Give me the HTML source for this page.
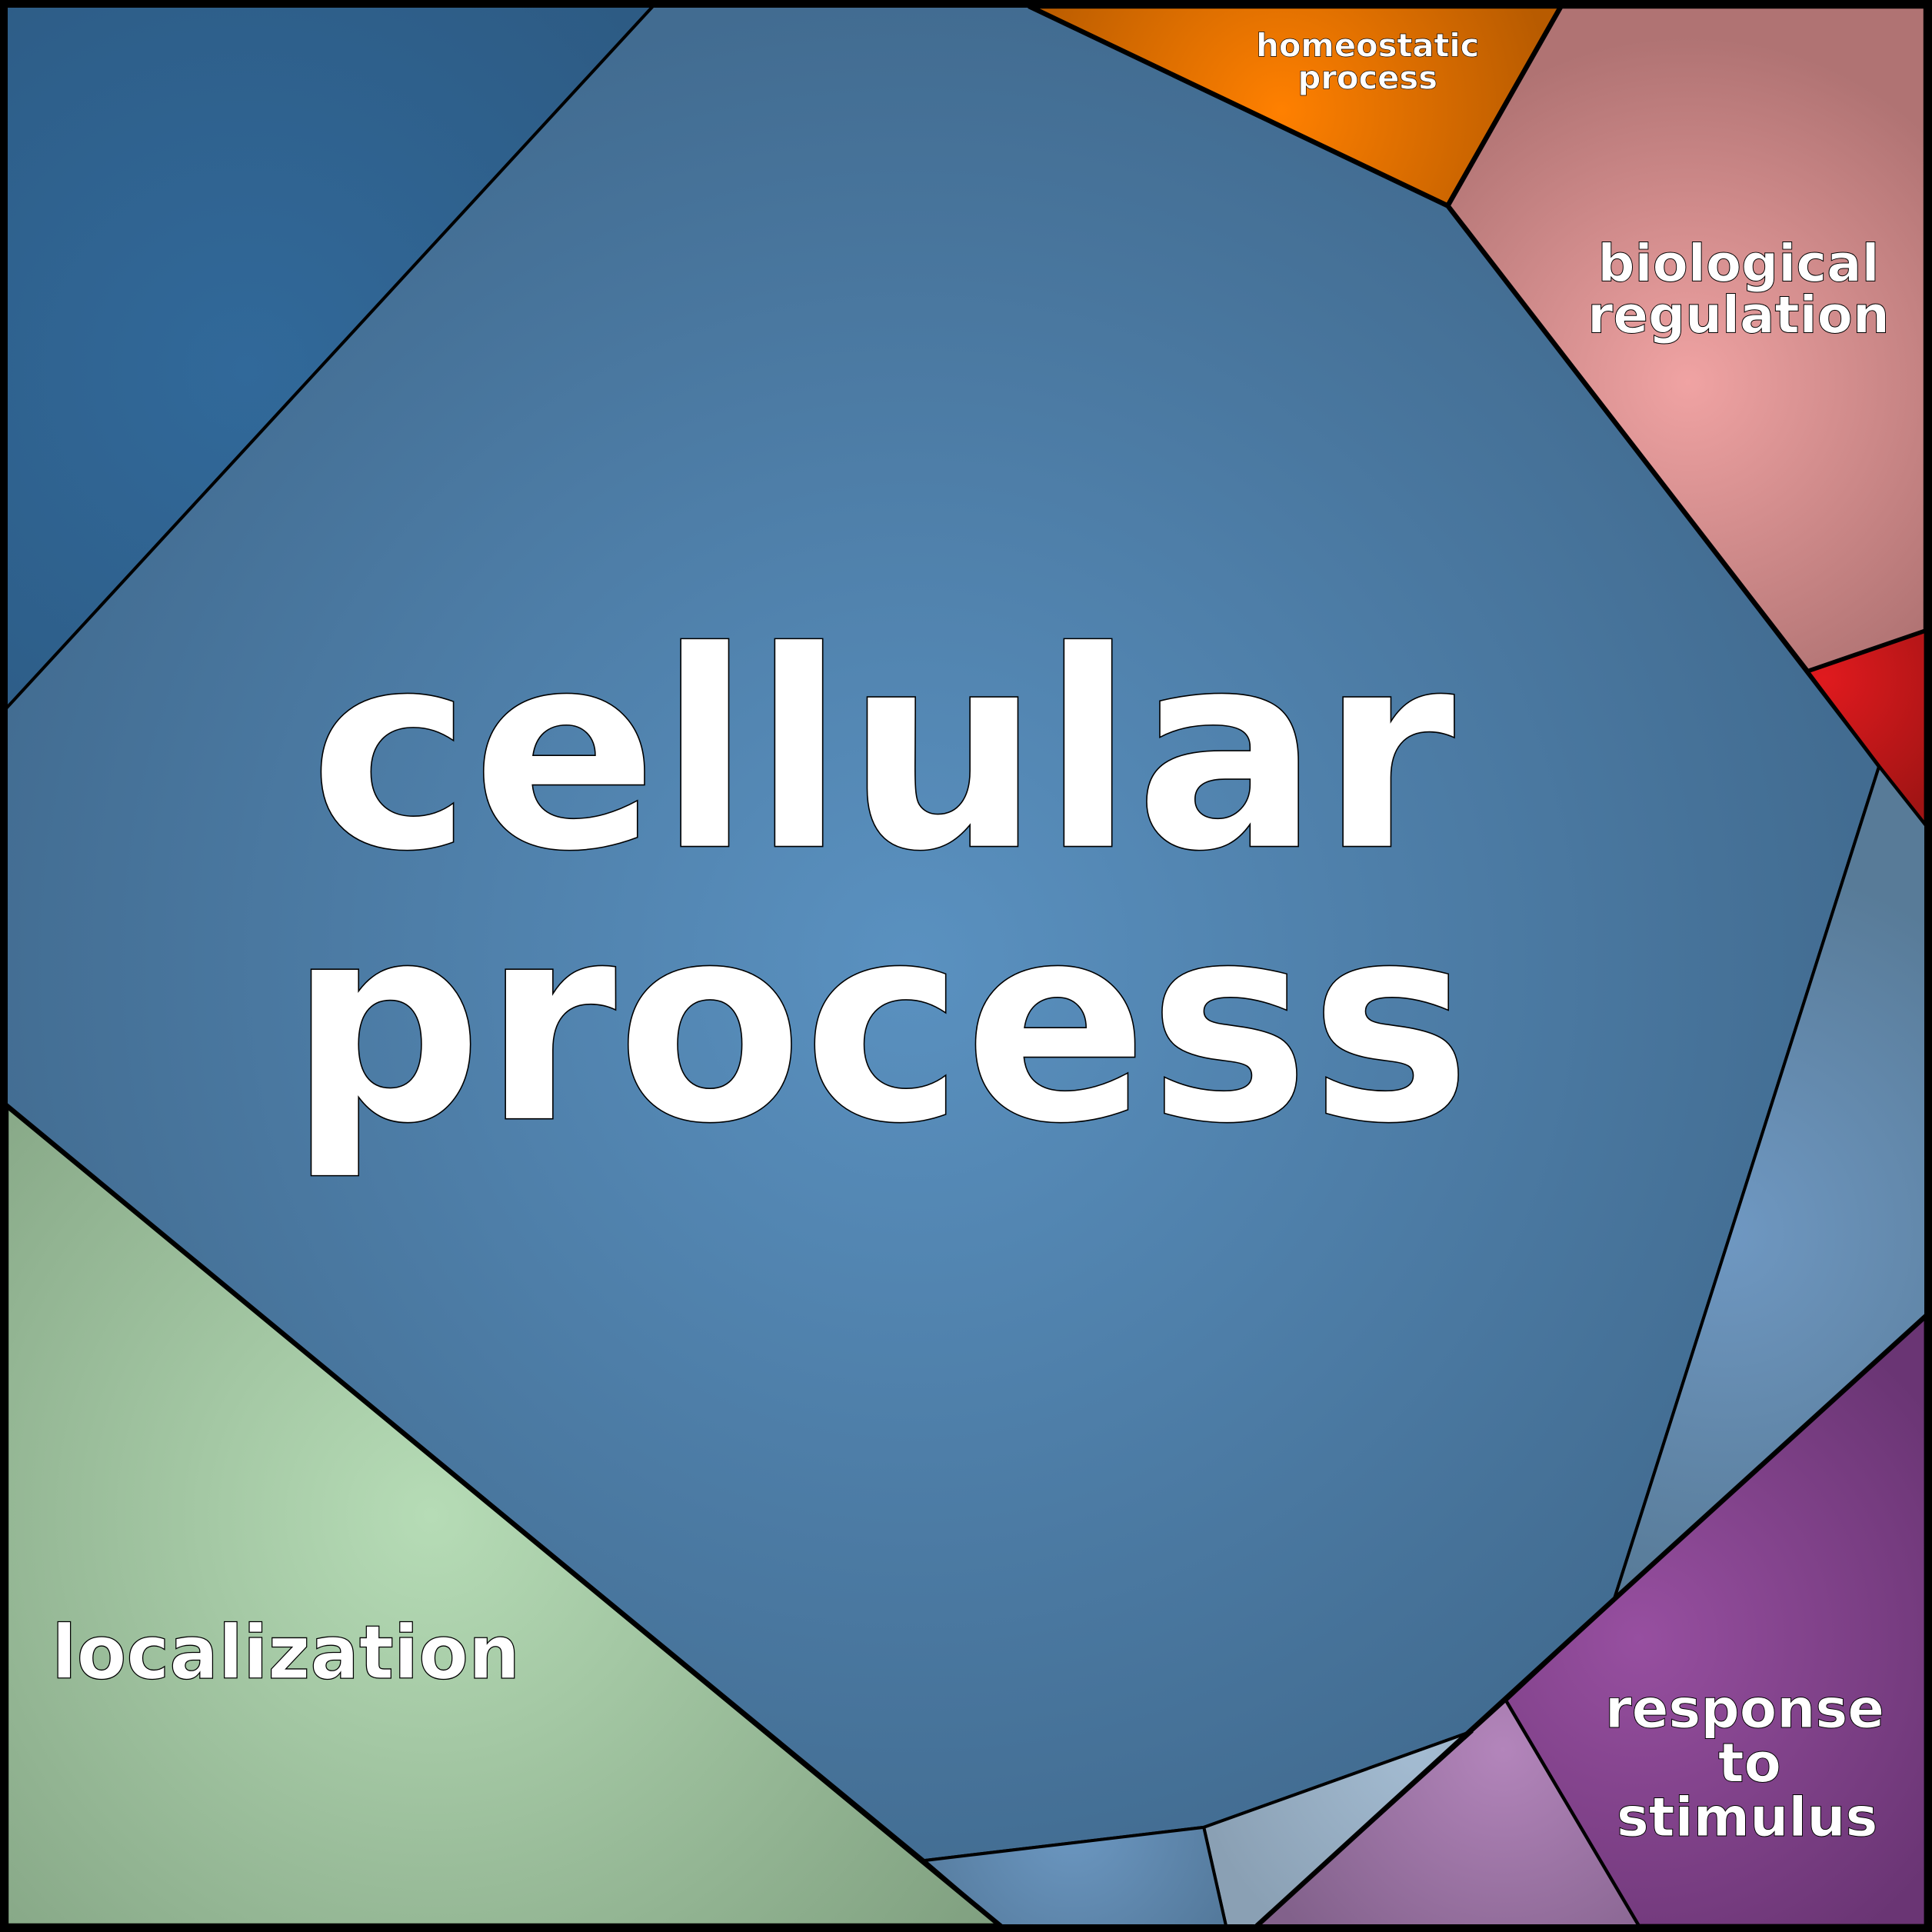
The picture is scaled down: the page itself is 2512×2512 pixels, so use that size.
<!DOCTYPE html>
<html><head><meta charset="utf-8"><style>
html,body{margin:0;padding:0;background:#fff}
svg{display:block}
text{font-family:"DejaVu Sans","Liberation Sans",sans-serif;font-weight:bold;fill:#fff;stroke:#000;text-anchor:middle}
</style></head><body>
<svg width="2512" height="2512" viewBox="0 0 1568 1568" xmlns="http://www.w3.org/2000/svg">
<defs>
<radialGradient id="gTL" gradientUnits="userSpaceOnUse" cx="200" cy="300" r="420"><stop offset="0" stop-color="#31699a"/><stop offset="1" stop-color="#2d5b84"/></radialGradient>
<radialGradient id="gC" gradientUnits="userSpaceOnUse" cx="740" cy="780" r="780"><stop offset="0" stop-color="#5a91c0"/><stop offset="1" stop-color="#426c91"/></radialGradient>
<radialGradient id="gH" gradientUnits="userSpaceOnUse" cx="1040" cy="90" r="220"><stop offset="0" stop-color="#ff8000"/><stop offset="1" stop-color="#b85b00"/></radialGradient>
<radialGradient id="gB" gradientUnits="userSpaceOnUse" cx="1370" cy="310" r="280"><stop offset="0" stop-color="#f0a3a3"/><stop offset="1" stop-color="#b07373"/></radialGradient>
<radialGradient id="gR" gradientUnits="userSpaceOnUse" cx="1480" cy="550" r="130"><stop offset="0" stop-color="#e01a1e"/><stop offset="1" stop-color="#a01414"/></radialGradient>
<radialGradient id="gRB" gradientUnits="userSpaceOnUse" cx="1400" cy="1000" r="300"><stop offset="0" stop-color="#6f98c2"/><stop offset="1" stop-color="#587b98"/></radialGradient>
<radialGradient id="gP" gradientUnits="userSpaceOnUse" cx="1330" cy="1330" r="300"><stop offset="0" stop-color="#974fa0"/><stop offset="1" stop-color="#6a3574"/></radialGradient>
<radialGradient id="gLP" gradientUnits="userSpaceOnUse" cx="1220" cy="1420" r="220"><stop offset="0" stop-color="#b385bb"/><stop offset="1" stop-color="#82618b"/></radialGradient>
<radialGradient id="gLB" gradientUnits="userSpaceOnUse" cx="1150" cy="1420" r="180"><stop offset="0" stop-color="#a4bcd2"/><stop offset="1" stop-color="#8aa0b4"/></radialGradient>
<radialGradient id="gSB" gradientUnits="userSpaceOnUse" cx="870" cy="1480" r="150"><stop offset="0" stop-color="#6c98c2"/><stop offset="1" stop-color="#53789a"/></radialGradient>
<radialGradient id="gG" gradientUnits="userSpaceOnUse" cx="350" cy="1230" r="560"><stop offset="0" stop-color="#b6dcb6"/><stop offset="1" stop-color="#80a080"/></radialGradient>
</defs>
<rect x="0" y="0" width="1568" height="1568" fill="#000"/>
<polygon points="5,5 530,5 5,575" fill="url(#gTL)" stroke="#000" stroke-width="2.5"/>
<polygon points="530,5 835,5 1175,167 1525,622 1310,1298 1195,1405 977,1483 750,1510 5,897 5,575" fill="url(#gC)" stroke="#000" stroke-width="2.5"/>
<polygon points="835,5 1267,5 1175,167" fill="url(#gH)" stroke="#000" stroke-width="4"/>
<polygon points="1267,5 1563,5 1563,512 1467,545 1175,167" fill="url(#gB)" stroke="#000" stroke-width="4"/>
<polygon points="1467,545 1563,512 1563,670 1525,622" fill="url(#gR)" stroke="#000" stroke-width="3"/>
<polygon points="1525,622 1563,670 1563,1068 1310,1298" fill="url(#gRB)" stroke="#000" stroke-width="2.5"/>
<polygon points="1563,1068 1563,1563 1330,1563 1222,1380 1310,1298" fill="url(#gP)" stroke="#000" stroke-width="3"/>
<polygon points="1222,1380 1330,1563 1020,1563" fill="url(#gLP)" stroke="#000" stroke-width="2.5"/>
<polygon points="977,1483 1195,1405 1020,1563 995,1563" fill="url(#gLB)" stroke="#000" stroke-width="2.5"/>
<polygon points="750,1510 977,1483 995,1563 812,1563" fill="url(#gSB)" stroke="#000" stroke-width="2.5"/>
<polygon points="5,897 812,1563 5,1563" fill="url(#gG)" stroke="#000" stroke-width="4"/>
<line x1="1310" y1="1298" x2="1020" y2="1563" stroke="#000" stroke-width="4"/>
<line x1="1563" y1="1068" x2="1310" y2="1298" stroke="#000" stroke-width="4"/>
<rect x="3" y="3" width="1562" height="1562" fill="none" stroke="#000" stroke-width="6"/>
<text x="716" y="687" font-size="222" stroke-width="1" textLength="930" lengthAdjust="spacingAndGlyphs">cellular</text>
<text x="714" y="908" font-size="222" stroke-width="1" textLength="960" lengthAdjust="spacingAndGlyphs">process</text>
<text x="232" y="1362" font-size="60" stroke-width="0.8" textLength="380" lengthAdjust="spacingAndGlyphs">localization</text>
<text x="1411" y="228" font-size="42" stroke-width="0.6">biological</text>
<text x="1411" y="270" font-size="42" stroke-width="0.6">regulation</text>
<text x="1110" y="46" font-size="26" stroke-width="0.4">homeostatic</text>
<text x="1110" y="72" font-size="26" stroke-width="0.4">process</text>
<text x="1416" y="1402" font-size="44" stroke-width="0.6">response</text>
<text x="1420" y="1446" font-size="44" stroke-width="0.6">to</text>
<text x="1418" y="1490" font-size="44" stroke-width="0.6">stimulus</text>
</svg>
</body></html>
